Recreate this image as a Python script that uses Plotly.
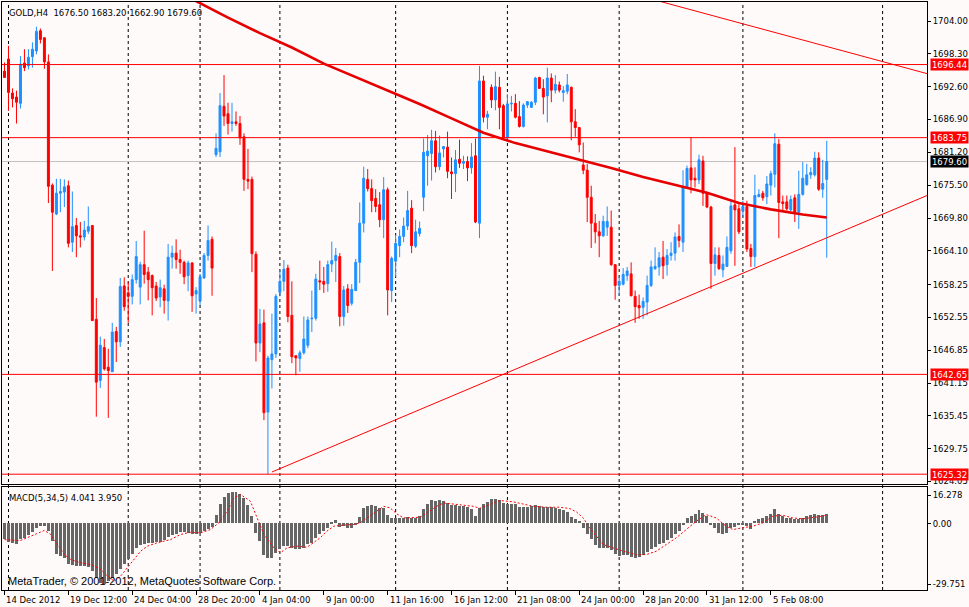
import plotly.graph_objects as go

# ==========================================================
# GOLD H4 CANDLES (bar 0 = 14 Dec 2012 20:00, one bar every 4h)
# ==========================================================
opens = [
    1695.3, 1697.4, 1691.5, 1690.8, 1689.7, 1696.7, 1696.2, 1697.8, 1698.8, 1702.3,
    1701.1, 1696.9, 1675.5, 1670.5, 1674.1, 1674.3, 1675.4, 1665.6, 1668.5, 1666.7,
    1666.5, 1667.5, 1668.5, 1652.2, 1641.6, 1647.3, 1643.9, 1643.1, 1650.1, 1648.3,
    1658.0, 1656.8, 1656.2, 1659.1, 1657.8, 1661.7, 1660.4, 1659.8, 1658.0, 1656.1,
    1657.5, 1655.4, 1663.0, 1663.7, 1662.6, 1662.1, 1659.8, 1662.0, 1656.6, 1655.4,
    1659.4, 1663.3, 1666.1, 1680.8, 1681.3, 1689.2, 1687.9, 1686.2, 1686.5, 1686.2,
    1683.9, 1676.5, 1676.5, 1663.5, 1648.1, 1651.6, 1636.1, 1645.2, 1646.2, 1656.9,
    1658.8, 1661.1, 1652.9, 1645.9, 1645.4, 1646.4, 1647.7, 1652.3, 1652.4, 1658.9,
    1658.8, 1658.4, 1661.8, 1662.4, 1663.1, 1652.7, 1657.5, 1655.0, 1657.2, 1662.1,
    1668.9, 1676.5, 1674.9, 1673.2, 1672.1, 1669.5, 1674.7, 1657.2, 1662.3, 1665.0,
    1666.6, 1668.4, 1671.5, 1664.9, 1667.1, 1673.4, 1680.6, 1681.0, 1683.2, 1678.7,
    1681.8, 1682.1, 1677.8, 1677.5, 1680.0, 1679.3, 1679.6, 1678.5, 1680.6, 1668.9,
    1693.6, 1687.3, 1692.5, 1690.3, 1692.5, 1689.3, 1683.7, 1689.6, 1689.7, 1687.4,
    1685.7, 1689.4, 1689.0, 1689.9, 1694.2, 1692.3, 1691.0, 1694.1, 1692.0, 1692.9,
    1691.6, 1691.8, 1692.5, 1686.5, 1685.5, 1679.0, 1678.1, 1673.4, 1668.9, 1667.4,
    1666.7, 1668.2, 1668.2, 1661.7, 1658.1, 1658.3, 1659.8, 1660.1, 1656.2, 1654.6,
    1654.3, 1655.2, 1658.1, 1661.0, 1661.3, 1663.0, 1661.7, 1663.3, 1663.7, 1666.6,
    1665.6, 1675.2, 1678.5, 1676.7, 1676.4, 1679.7, 1674.1, 1671.7, 1661.9, 1663.3,
    1660.8, 1661.4, 1664.1, 1672.1, 1671.4, 1671.0, 1671.8, 1664.5, 1663.1, 1673.5,
    1674.1, 1673.5, 1675.5, 1677.4, 1682.6, 1672.6, 1672.6, 1671.2, 1673.3, 1670.8,
    1673.9, 1675.6, 1677.3, 1677.3, 1680.2, 1674.8, 1676.5,
]
highs = [
    1696.8, 1699.7, 1692.3, 1691.9, 1697.9, 1699.1, 1699.1, 1700.3, 1703.0, 1702.7,
    1701.1, 1698.2, 1675.8, 1676.6, 1676.6, 1676.5, 1676.3, 1674.4, 1669.8, 1669.1,
    1669.3, 1671.8, 1668.5, 1655.9, 1649.2, 1648.8, 1647.1, 1651.6, 1650.9, 1659.4,
    1659.5, 1658.7, 1660.0, 1665.8, 1662.2, 1667.6, 1661.3, 1660.0, 1658.7, 1659.1,
    1658.2, 1665.3, 1665.0, 1666.1, 1664.3, 1662.4, 1662.4, 1662.1, 1657.8, 1660.1,
    1663.7, 1668.5, 1666.6, 1684.5, 1691.5, 1694.6, 1689.8, 1689.8, 1688.3, 1687.5,
    1684.5, 1681.8, 1677.0, 1664.0, 1654.0, 1653.9, 1645.9, 1653.2, 1656.6, 1660.7,
    1662.5, 1661.7, 1658.8, 1645.9, 1646.8, 1652.7, 1652.7, 1657.2, 1660.1, 1662.4,
    1661.3, 1662.4, 1665.7, 1664.6, 1663.7, 1658.0, 1658.3, 1658.3, 1662.7, 1672.5,
    1678.7, 1678.3, 1676.5, 1674.8, 1674.3, 1676.9, 1675.1, 1663.1, 1666.9, 1667.8,
    1669.9, 1674.5, 1672.9, 1669.5, 1669.2, 1683.6, 1684.2, 1685.1, 1684.9, 1684.1,
    1682.3, 1684.8, 1680.3, 1681.6, 1683.4, 1680.6, 1680.5, 1682.8, 1683.6, 1696.2,
    1694.5, 1688.4, 1693.0, 1695.2, 1694.3, 1689.6, 1691.3, 1691.0, 1691.3, 1690.1,
    1689.7, 1690.1, 1690.1, 1694.3, 1694.3, 1693.9, 1695.9, 1694.9, 1694.6, 1693.5,
    1692.7, 1694.8, 1692.6, 1688.7, 1685.6, 1682.9, 1679.2, 1675.4, 1670.5, 1669.3,
    1670.2, 1671.8, 1671.1, 1661.8, 1659.6, 1661.1, 1661.3, 1662.1, 1657.2, 1656.5,
    1656.0, 1659.8, 1662.4, 1664.7, 1663.9, 1665.8, 1664.4, 1665.6, 1667.3, 1668.7,
    1678.1, 1678.9, 1683.8, 1678.6, 1680.8, 1680.6, 1674.3, 1671.9, 1664.7, 1664.7,
    1663.3, 1666.6, 1673.1, 1682.1, 1672.2, 1672.8, 1672.8, 1665.3, 1677.3, 1674.8,
    1674.5, 1677.1, 1678.0, 1684.5, 1683.5, 1673.7, 1673.7, 1673.7, 1673.9, 1678.0,
    1679.5, 1679.2, 1678.6, 1681.3, 1681.2, 1679.9, 1683.2,
]
lows = [
    1694.1, 1688.4, 1689.0, 1686.2, 1688.8, 1695.3, 1695.6, 1695.9, 1698.2, 1700.1,
    1695.7, 1672.4, 1660.6, 1670.3, 1670.8, 1671.7, 1664.7, 1663.9, 1663.0, 1664.7,
    1665.9, 1667.0, 1651.9, 1635.3, 1640.3, 1643.3, 1635.1, 1643.1, 1644.8, 1647.4,
    1653.7, 1651.6, 1654.8, 1658.4, 1654.8, 1658.4, 1655.5, 1652.9, 1655.4, 1654.3,
    1653.2, 1652.0, 1661.0, 1661.0, 1660.1, 1658.3, 1657.1, 1653.5, 1653.2, 1654.6,
    1659.2, 1662.4, 1656.3, 1680.4, 1680.4, 1685.8, 1684.3, 1684.8, 1685.8, 1682.5,
    1674.5, 1674.8, 1660.4, 1644.9, 1646.5, 1634.7, 1625.32, 1640.2, 1645.5, 1656.2,
    1657.1, 1651.7, 1644.6, 1642.5, 1643.1, 1646.1, 1647.2, 1650.0, 1652.0, 1657.3,
    1656.8, 1657.0, 1660.4, 1658.7, 1651.0, 1651.1, 1653.3, 1654.6, 1657.1, 1658.5,
    1667.3, 1674.4, 1670.8, 1670.8, 1668.2, 1666.3, 1652.9, 1655.2, 1659.6, 1663.0,
    1665.6, 1667.7, 1663.7, 1664.6, 1666.6, 1671.0, 1675.4, 1676.3, 1677.7, 1678.1,
    1680.3, 1676.7, 1673.1, 1674.3, 1678.5, 1678.3, 1676.2, 1677.5, 1668.9, 1666.3,
    1686.4, 1685.2, 1688.9, 1688.5, 1685.2, 1683.7, 1683.5, 1688.3, 1687.1, 1685.5,
    1685.5, 1688.9, 1688.9, 1689.4, 1692.2, 1687.8, 1686.4, 1689.9, 1691.4, 1691.6,
    1690.0, 1691.3, 1683.3, 1683.9, 1681.2, 1677.4, 1669.1, 1664.6, 1665.4, 1663.0,
    1666.5, 1666.7, 1661.5, 1655.6, 1656.3, 1658.1, 1658.9, 1656.2, 1651.6, 1652.3,
    1652.3, 1652.9, 1657.8, 1660.8, 1659.8, 1659.2, 1659.8, 1662.4, 1662.4, 1664.7,
    1663.9, 1675.1, 1674.1, 1675.1, 1675.7, 1671.9, 1671.5, 1657.5, 1659.8, 1660.8,
    1659.5, 1661.3, 1663.6, 1661.5, 1667.0, 1669.9, 1663.9, 1661.3, 1661.3, 1673.4,
    1672.8, 1672.2, 1673.7, 1675.1, 1666.3, 1671.0, 1671.1, 1671.0, 1669.1, 1667.9,
    1673.7, 1675.4, 1676.6, 1677.0, 1674.5, 1673.3, 1662.9,
]
closes = [
    1694.2, 1691.6, 1690.5, 1689.9, 1696.5, 1695.9, 1697.7, 1699.1, 1702.2, 1700.8,
    1696.9, 1675.3, 1670.8, 1674.1, 1674.4, 1675.2, 1665.4, 1668.3, 1666.7, 1666.5,
    1667.7, 1668.3, 1652.0, 1641.3, 1647.7, 1643.6, 1643.3, 1650.0, 1648.3, 1657.9,
    1654.4, 1656.2, 1659.1, 1663.1, 1661.7, 1660.0, 1659.1, 1657.7, 1655.9, 1657.7,
    1655.5, 1663.0, 1663.7, 1662.6, 1662.1, 1659.6, 1662.0, 1656.3, 1657.2, 1659.6,
    1663.3, 1665.9, 1661.1, 1681.9, 1689.3, 1687.5, 1686.2, 1686.5, 1686.2, 1683.7,
    1676.5, 1676.2, 1663.6, 1648.1, 1651.4, 1636.0, 1645.5, 1646.2, 1656.2, 1658.8,
    1660.9, 1652.7, 1645.7, 1645.5, 1646.4, 1648.8, 1652.1, 1652.4, 1659.2, 1658.7,
    1658.3, 1661.7, 1662.4, 1663.3, 1652.7, 1657.3, 1654.6, 1657.4, 1662.1, 1668.9,
    1676.7, 1674.9, 1672.8, 1671.8, 1669.5, 1674.7, 1657.3, 1662.8, 1665.4, 1666.6,
    1668.4, 1671.1, 1665.0, 1667.4, 1668.0, 1681.2, 1681.4, 1683.2, 1678.7, 1681.1,
    1682.2, 1677.9, 1677.5, 1679.9, 1679.3, 1679.6, 1678.5, 1680.4, 1669.1, 1693.6,
    1687.3, 1687.8, 1690.3, 1692.6, 1689.0, 1683.8, 1689.6, 1689.7, 1687.3, 1685.7,
    1689.4, 1690.0, 1689.9, 1694.1, 1692.3, 1690.8, 1694.1, 1692.0, 1693.0, 1692.0,
    1691.9, 1692.9, 1686.5, 1685.5, 1682.5, 1678.1, 1673.4, 1668.9, 1667.4, 1666.7,
    1669.2, 1669.2, 1661.7, 1658.1, 1658.8, 1660.0, 1660.6, 1656.3, 1654.4, 1654.2,
    1655.3, 1658.1, 1661.3, 1661.4, 1662.9, 1661.5, 1663.3, 1663.7, 1666.5, 1665.9,
    1675.2, 1678.4, 1676.4, 1676.4, 1679.9, 1674.1, 1671.7, 1661.9, 1663.4, 1661.0,
    1661.8, 1664.7, 1671.9, 1671.2, 1667.4, 1671.8, 1664.4, 1663.1, 1673.7, 1673.9,
    1673.3, 1675.7, 1677.5, 1682.7, 1672.5, 1672.3, 1671.4, 1673.0, 1670.8, 1673.9,
    1676.7, 1677.3, 1677.7, 1680.2, 1674.8, 1675.8, 1679.6,
]

# moving average (bar index, price)
ma_bars = [40, 48, 56, 64, 72, 80, 88, 96, 104, 112, 120,
           128, 136, 144, 152, 160, 168, 176, 184, 192, 200, 206]
ma_values = [1710.3, 1707.4, 1704.6, 1701.9, 1699.4, 1696.6, 1694.3, 1692.0, 1689.6, 1687.1, 1684.6,
             1682.8, 1681.4, 1680.0, 1678.5, 1676.9, 1675.6, 1674.2, 1672.4, 1671.3, 1670.4, 1669.9]

# ==========================================================
# MACD(5,34,5)
# ==========================================================
macd_main = [
    -6.9, -8.3, -8.8, -9.1, -7.2, -6.4, -5.2, -3.7, -2.2, -1.3,
    -1.0, -3.4, -7.9, -13.6, -14.6, -15.6, -18.0, -18.6, -18.9, -18.9,
    -18.9, -19.5, -21.3, -24.3, -26.5, -27.0, -25.8, -24.3, -22.5, -20.6,
    -18.3, -16.1, -13.9, -10.9, -9.7, -9.4, -8.9, -8.6, -8.5, -8.2,
    -7.6, -6.1, -5.2, -4.6, -3.9, -3.7, -4.2, -4.6, -4.9, -4.3,
    -3.4, -2.4, -1.6, 3.7, 8.8, 11.8, 13.4, 13.9, 13.9, 13.0,
    11.5, 8.2, 3.3, -4.2, -7.9, -14.3, -15.3, -15.6, -13.1, -11.6,
    -10.1, -10.1, -10.9, -11.3, -11.3, -10.9, -9.4, -8.6, -6.4, -4.9,
    -3.4, -1.9, 0.7, 1.3, -1.6, -1.2, -1.9, -1.9, -0.4, 2.8,
    6.7, 8.0, 8.2, 7.7, 7.0, 6.7, 3.7, 2.5, 2.2, 2.5,
    2.5, 2.8, 2.5, 2.5, 3.3, 6.3, 8.5, 10.3, 10.0, 10.3,
    10.0, 9.2, 8.2, 8.2, 8.0, 7.7, 7.3, 6.3, 3.3, 7.0,
    8.8, 9.7, 10.7, 11.0, 10.3, 9.2, 8.8, 8.8, 8.5, 7.3,
    7.3, 7.3, 8.0, 8.2, 7.6, 7.3, 7.3, 7.3, 7.0, 6.6,
    6.1, 5.2, 2.8, 2.0, 1.0, -2.2, -4.9, -7.2, -9.8, -10.9,
    -10.9, -11.2, -12.1, -13.9, -14.6, -14.3, -14.2, -15.0, -15.3, -15.0,
    -14.2, -12.8, -11.6, -10.6, -9.4, -8.6, -7.6, -6.4, -4.9, -3.4,
    -0.7, 2.5, 3.3, 4.3, 5.8, 4.8, 3.3, -0.3, -2.2, -4.2,
    -4.9, -4.2, -2.2, -1.6, -0.9, -0.7, -1.2, -2.4, 1.0, 2.1,
    2.5, 3.3, 4.0, 6.3, 4.3, 3.3, 2.5, 2.5, 1.8, 2.1,
    2.5, 3.1, 3.7, 4.3, 3.6, 3.6, 4.041,
]
signal_bars = [0, 4, 8, 10, 11.6, 13.3, 15, 16.6, 19.1, 21.6, 24.1, 25.8, 27.5, 29.1,
               30.8, 32.5, 34.1, 35.8, 38.3, 41.6, 44.1, 46.6, 49.1, 51.6, 53.7, 55.8,
               57.5, 59.1, 61.6, 63.3, 65, 67.5, 69.1, 70.8, 73.3, 75.8, 77.5, 79.1,
               80.8, 82.5, 85, 87.5, 89.1, 90.8, 93.3, 95, 96.6, 98.3, 100, 102.5,
               104.1, 105.8, 108.3, 110, 112.5, 115, 117.5, 119.1, 121.6, 124.1, 127.5,
               130, 132.5, 135.8, 139.1, 141.6, 143.3, 145, 146.6, 148.3, 150, 152.5,
               155, 158.3, 160.8, 163.3, 165.8, 168.3, 170.8, 173.3, 175.8, 178.3,
               180.8, 182.5, 185, 187.5, 190, 192.5, 195, 197.5, 200, 202.5, 205, 206]
signal_values = [-7.2, -7.6, -4.6, -3.1, -4.9, -9.4, -13.9, -16.1, -17.6, -18.3, -20.6, -23.5, -25.8, -23.5,
                 -19.8, -16.1, -12.4, -10.1, -8.6, -7.2, -4.9, -3.9, -4.2, -2.7, 0.3, 5.5,
                 11.5, 13.0, 10.0, 2.5, -4.9, -10.9, -13.1, -10.9, -10.1, -10.6, -8.6, -6.4,
                 -3.4, -1.2, -0.7, -0.4, 0.3, 2.5, 5.5, 7.7, 7.0, 4.3, 2.5, 2.5,
                 2.8, 4.8, 7.7, 9.2, 8.8, 8.2, 7.7, 6.8, 8.5, 10.3, 9.7,
                 8.8, 7.7, 7.3, 7.3, 6.7, 5.2, 2.5, -1.9, -5.7, -9.4, -10.9,
                 -12.4, -13.9, -13.9, -12.4, -9.4, -6.4, -2.7, 1.0, 4.0, 2.5,
                 -1.2, -2.7, -1.9, -1.2, 0.3, 3.3, 3.7, 2.5, 2.1, 2.8, 3.3, 3.95]

# ==========================================================
# DRAWN OBJECTS: levels and trend lines
# ==========================================================
red_levels = [1696.44, 1683.75, 1642.65, 1625.32]
last_price = 1679.60
support_bars = [67, 240]
support_prices = [1625.7, 1676.3]
resistance_bars = [160, 240]
resistance_prices = [1708.2, 1693.2]

# ==========================================================
# AXES
# ==========================================================
price_ticks = [1704.00, 1698.30, 1692.60, 1686.90, 1681.20, 1675.50, 1669.80, 1664.10,
               1658.25, 1652.55, 1646.85, 1641.15, 1635.45, 1629.75, 1624.05]
date_bars = [0, 16, 32, 48, 64, 80, 96, 112, 128, 144, 160, 176, 192]
date_labels = ["14 Dec 2012", "19 Dec 12:00", "24 Dec 04:00", "28 Dec 20:00", "4 Jan 04:00",
               "9 Jan 00:00", "11 Jan 16:00", "16 Jan 12:00", "21 Jan 08:00", "24 Jan 00:00",
               "28 Jan 20:00", "31 Jan 12:00", "5 Feb 08:00"]
week_bars = [1, 31, 49, 69, 98, 126, 154, 185, 220]
macd_ticks = [12.7, 0, -27.1]
macd_labels = ["16.278", "0.00", "-29.751"]

BG = "#FFFAFA"
BLUE = "#1E90FF"
RED = "#FF0000"
FONT = "DejaVu Sans"

bars = list(range(len(closes)))

fig = go.Figure()

fig.add_trace(go.Candlestick(
    x=bars, open=opens, high=highs, low=lows, close=closes,
    increasing=dict(line=dict(color=BLUE, width=1), fillcolor=BLUE),
    decreasing=dict(line=dict(color=RED, width=1), fillcolor=RED),
    whiskerwidth=0, showlegend=False, hoverinfo="skip",
))

fig.add_trace(go.Scatter(
    x=ma_bars, y=ma_values, mode="lines",
    line=dict(color="#E60000", width=2.6), showlegend=False, hoverinfo="skip",
))

for bx, py in [(support_bars, support_prices), (resistance_bars, resistance_prices)]:
    fig.add_trace(go.Scatter(
        x=bx, y=py, mode="lines",
        line=dict(color=RED, width=1), showlegend=False, hoverinfo="skip",
    ))

fig.add_trace(go.Bar(
    x=bars, y=macd_main, xaxis="x2", yaxis="y2", width=0.75,
    marker=dict(color="#666666", line=dict(width=0)),
    showlegend=False, hoverinfo="skip",
))
fig.add_trace(go.Scatter(
    x=signal_bars, y=signal_values, xaxis="x2", yaxis="y2", mode="lines",
    line=dict(color=RED, width=1, dash="2px,2px"), showlegend=False, hoverinfo="skip",
))

shapes = []
for wb in week_bars:
    shapes.append(dict(type="line", xref="x", yref="paper", x0=wb, x1=wb, y0=0, y1=1,
                       line=dict(color="black", width=1, dash="3px,3px"), layer="below"))
for lv in red_levels:
    shapes.append(dict(type="line", xref="x domain", yref="y", x0=0, x1=1, y0=lv, y1=lv,
                       line=dict(color=RED, width=1)))
shapes.append(dict(type="line", xref="x domain", yref="y", x0=0, x1=1, y0=last_price, y1=last_price,
                   line=dict(color="#C0C0C0", width=1), layer="below"))

annotations = []
for lv in red_levels + [last_price]:
    annotations.append(dict(
        xref="paper", yref="y", x=1, y=lv, xanchor="left", yanchor="middle",
        xshift=3, text=f"{lv:.2f}", showarrow=False, width=37, height=11,
        bgcolor="black" if lv == last_price else RED, borderpad=0,
        font=dict(family=FONT, size=8.5, color="white"),
    ))
for db, dl in zip(date_bars, date_labels):
    annotations.append(dict(
        xref="x2", yref="paper", x=db, y=0, xanchor="left", yanchor="top",
        xshift=0, yshift=-3, text=dl, showarrow=False,
        font=dict(family=FONT, size=8.5, color="black"),
    ))
annotations.append(dict(
    xref="paper", yref="paper", x=0, y=1, xanchor="left", yanchor="top",
    xshift=5, yshift=-4, text="GOLD,H4&nbsp;&nbsp;1676.50 1683.20 1662.90 1679.60",
    showarrow=False, font=dict(family=FONT, size=8.5, color="black"),
))
annotations.append(dict(
    xref="paper", yref="y2 domain", x=0, y=1, xanchor="left", yanchor="top",
    xshift=5, yshift=-4, text="MACD(5,34,5) 4.041 3.950",
    showarrow=False, font=dict(family=FONT, size=8.5, color="black"),
))
annotations.append(dict(
    xref="paper", yref="y2 domain", x=0, y=0, xanchor="left", yanchor="bottom",
    xshift=4, yshift=1, text="MetaTrader, © 2001-2012, MetaQuotes Software Corp.",
    showarrow=False, font=dict(family="Liberation Sans", size=11, color="black"),
))

axis_common = dict(showgrid=False, zeroline=False, showline=True, mirror=True,
                   linecolor="black", linewidth=1)

fig.update_layout(
    width=969, height=607,
    margin=dict(l=1, r=41, t=1, b=17),
    paper_bgcolor=BG, plot_bgcolor=BG,
    font=dict(family=FONT, size=8.5, color="black"),
    bargap=0, showlegend=False,
    shapes=shapes, annotations=annotations,
    xaxis=dict(domain=[0, 1], anchor="y", range=[-0.625, 231.125],
               showticklabels=False, ticks="", rangeslider=dict(visible=False), **axis_common),
    xaxis2=dict(domain=[0, 1], anchor="y2", range=[-0.625, 231.125], matches="x",
                tickvals=date_bars, showticklabels=False, ticks="outside", ticklen=4,
                tickcolor="black", **axis_common),
    yaxis=dict(domain=[0.18, 1], anchor="x", range=[1623.59, 1707.30], side="right",
               tickvals=price_ticks, ticktext=[f"{p:.2f}" for p in price_ticks],
               ticks="outside", ticklen=3, tickcolor="black",
               tickfont=dict(family=FONT, size=8.5), **axis_common),
    yaxis2=dict(domain=[0, 0.1749], anchor="x2", range=[-29.751, 16.278], side="right",
                tickvals=macd_ticks, ticktext=macd_labels,
                ticks="outside", ticklen=3, tickcolor="black",
                tickfont=dict(family=FONT, size=8.5), **axis_common),
)

# the page's default body margin would push the 969x607 figure off the window
fig.write_html("out.html", config={"displayModeBar": False},
               post_script="document.body.style.margin='0';")
